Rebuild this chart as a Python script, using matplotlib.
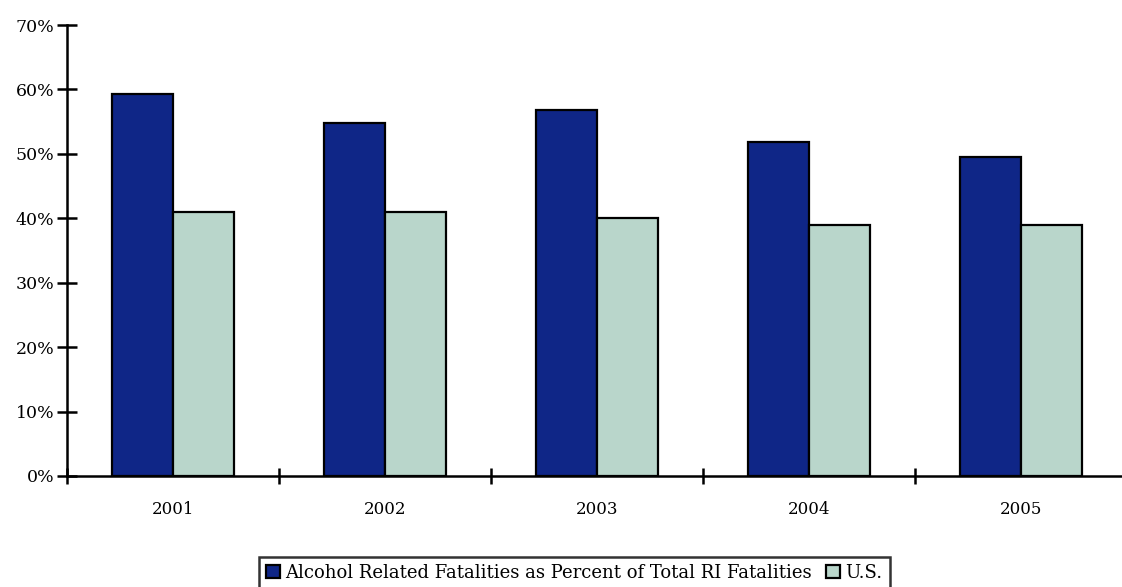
import numpy as np
import matplotlib.pyplot as plt
from matplotlib.ticker import FixedLocator, PercentFormatter

years = ["2001", "2002", "2003", "2004", "2005"]
ri_share = [59.3, 54.8, 56.8, 51.9, 49.5]
us_share = [41, 41, 40, 39, 39]

plt.rcParams["font.family"] = ["DejaVu Serif"]

fig = plt.figure(figsize=(11.22, 5.87), dpi=100)
# left 67 px, right edge runs slightly past the canvas
ax = fig.add_axes([67 / 1122, 1 - 476 / 587, 1060 / 1122, 451 / 587])

x = np.arange(len(years))
w = 0.2875
ax.bar(x - w / 2, ri_share, w, color="#0F2687", edgecolor="black", linewidth=1.6,
       label="Alcohol Related Fatalities as Percent of Total RI Fatalities")
ax.bar(x + w / 2, us_share, w, color="#B9D6CB", edgecolor="black", linewidth=1.6,
       label="U.S.")

ax.set_xlim(-0.5, len(years) - 0.5)
ax.set_ylim(0, 70)
ax.set_yticks(range(0, 71, 10))
ax.yaxis.set_major_formatter(PercentFormatter(decimals=0))

# category boundaries get the tick marks, centres get the labels
ax.xaxis.set_major_locator(FixedLocator(np.arange(-0.5, len(years), 1.0)))
ax.xaxis.set_minor_locator(FixedLocator(x))
ax.set_xticklabels([])
ax.set_xticklabels(years, minor=True)
ax.tick_params(axis="x", which="major", direction="inout", length=12, width=1.8)
ax.tick_params(axis="x", which="minor", length=0, pad=18, labelsize=12)
ax.tick_params(axis="y", direction="inout", length=14, width=1.8, labelsize=12.5, pad=2)

for side in ("top", "right"):
    ax.spines[side].set_visible(False)
for side in ("left", "bottom"):
    ax.spines[side].set_linewidth(1.8)

leg = fig.legend(loc="lower center", bbox_to_anchor=(0.512, -0.004), ncol=2,
                 fontsize=13, frameon=True, fancybox=False, handlelength=0.75,
                 handleheight=0.75, handletextpad=0.3, columnspacing=0.8,
                 borderpad=0.4, borderaxespad=0)
leg.get_frame().set_edgecolor("black")
leg.get_frame().set_linewidth(1.8)

fig.savefig("out.png", dpi=100)
